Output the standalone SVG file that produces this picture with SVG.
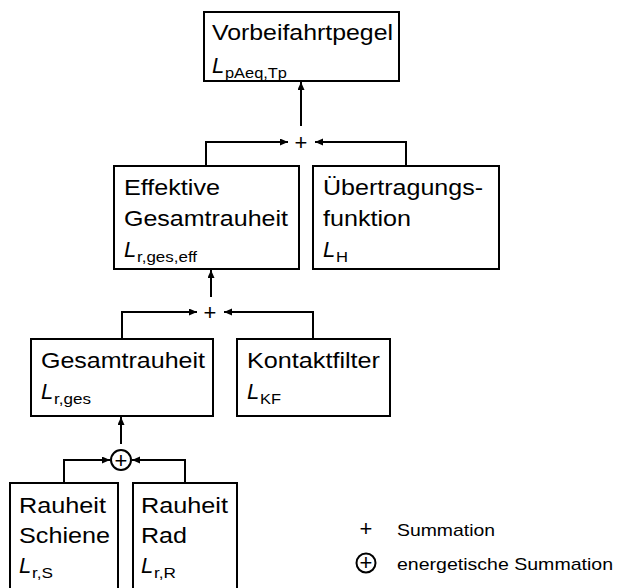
<svg xmlns="http://www.w3.org/2000/svg" width="620" height="588" viewBox="0 0 620 588">
<style>
.box{fill:#fff;stroke:#000;stroke-width:2}
.t{font-family:"Liberation Sans",Arial,sans-serif;font-size:22px;fill:#000}
.L{font-family:"Liberation Sans",Arial,sans-serif;font-size:22px;font-style:italic;fill:#000}
.s{font-family:"Liberation Sans",Arial,sans-serif;font-size:14.5px;fill:#000}
.lg{font-family:"Liberation Sans",Arial,sans-serif;font-size:17px;fill:#000}
.c{fill:none;stroke:#000;stroke-width:2}
.op{font-family:"Liberation Sans",Arial,sans-serif;font-size:22px;fill:#000;text-anchor:middle}
</style>
<defs>
<marker id="ah" markerUnits="userSpaceOnUse" markerWidth="9" markerHeight="8" refX="8" refY="3.5" orient="auto">
<path d="M0,0 L8,3.5 L0,7 z" fill="#000"/>
</marker>
</defs>
<g id="connectors">
<path class="c" d="M206,166 V142 H288" marker-end="url(#ah)"/>
<path class="c" d="M406,166 V142 H315" marker-end="url(#ah)"/>
<path class="c" d="M301,126 V82" marker-end="url(#ah)"/>
<path class="c" d="M122,339 V312 H197" marker-end="url(#ah)"/>
<path class="c" d="M313,339 V312 H224" marker-end="url(#ah)"/>
<path class="c" d="M211,297 V270" marker-end="url(#ah)"/>
<path class="c" d="M64,483 V460 H110" marker-end="url(#ah)"/>
<path class="c" d="M185,483 V460 H132" marker-end="url(#ah)"/>
<path class="c" d="M121,444 V417" marker-end="url(#ah)"/>
</g>
<g id="sum1"><text class="op" x="301" y="150">+</text></g>
<g id="sum2"><text class="op" x="210" y="320">+</text></g>
<g id="esum"><circle cx="121" cy="460" r="10" fill="#fff" stroke="#000" stroke-width="2"/><text class="op" x="121" y="467.5" font-size="20">+</text></g>
<g id="vorbeifahrtpegel">
<rect class="box" x="204" y="12" width="195" height="69"/>
<text class="t" x="212" y="40" textLength="181" lengthAdjust="spacingAndGlyphs">Vorbeifahrtpegel</text>
<text class="L" x="212" y="73">L</text>
<text class="s" x="225" y="78" textLength="62" lengthAdjust="spacingAndGlyphs">pAeq,Tp</text>
</g>
<g id="effektive">
<rect class="box" x="114" y="166" width="185" height="103"/>
<text class="t" x="124" y="195" textLength="96" lengthAdjust="spacingAndGlyphs">Effektive</text>
<text class="t" x="124" y="226" textLength="164" lengthAdjust="spacingAndGlyphs">Gesamtrauheit</text>
<text class="L" x="124" y="257">L</text>
<text class="s" x="137" y="262" textLength="60" lengthAdjust="spacingAndGlyphs">r,ges,eff</text>
</g>
<g id="uebertragung">
<rect class="box" x="313" y="166" width="186" height="103"/>
<text class="t" x="323" y="195" textLength="160" lengthAdjust="spacingAndGlyphs">Übertragungs-</text>
<text class="t" x="323" y="226" textLength="88" lengthAdjust="spacingAndGlyphs">funktion</text>
<text class="L" x="323" y="257">L</text>
<text class="s" x="336" y="262" textLength="12" lengthAdjust="spacingAndGlyphs">H</text>
</g>
<g id="gesamtrauheit">
<rect class="box" x="31" y="339" width="182" height="77"/>
<text class="t" x="41" y="368" textLength="164" lengthAdjust="spacingAndGlyphs">Gesamtrauheit</text>
<text class="L" x="41" y="399">L</text>
<text class="s" x="54" y="404" textLength="37" lengthAdjust="spacingAndGlyphs">r,ges</text>
</g>
<g id="kontaktfilter">
<rect class="box" x="237" y="339" width="153" height="77"/>
<text class="t" x="247" y="368" textLength="133" lengthAdjust="spacingAndGlyphs">Kontaktfilter</text>
<text class="L" x="247" y="399">L</text>
<text class="s" x="260" y="404" textLength="21" lengthAdjust="spacingAndGlyphs">KF</text>
</g>
<g id="rauheit-schiene">
<rect class="box" x="10" y="483" width="108" height="110"/>
<text class="t" x="19" y="513" textLength="87" lengthAdjust="spacingAndGlyphs">Rauheit</text>
<text class="t" x="19" y="543" textLength="91" lengthAdjust="spacingAndGlyphs">Schiene</text>
<text class="L" x="19" y="573">L</text>
<text class="s" x="32" y="578" textLength="21" lengthAdjust="spacingAndGlyphs">r,S</text>
</g>
<g id="rauheit-rad">
<rect class="box" x="133" y="483" width="104" height="110"/>
<text class="t" x="141" y="513" textLength="87" lengthAdjust="spacingAndGlyphs">Rauheit</text>
<text class="t" x="141" y="543" textLength="46" lengthAdjust="spacingAndGlyphs">Rad</text>
<text class="L" x="141" y="573">L</text>
<text class="s" x="154" y="578" textLength="22" lengthAdjust="spacingAndGlyphs">r,R</text>
</g>
<g id="legend">
<text class="op" x="366" y="535.5" font-size="20">+</text>
<text class="lg" x="397" y="536" textLength="98" lengthAdjust="spacingAndGlyphs">Summation</text>
<circle cx="366" cy="563" r="9.5" fill="none" stroke="#000" stroke-width="2"/>
<text class="op" x="366" y="570" font-size="18">+</text>
<text class="lg" x="397" y="570" textLength="216" lengthAdjust="spacingAndGlyphs">energetische  Summation</text>
</g>
</svg>
